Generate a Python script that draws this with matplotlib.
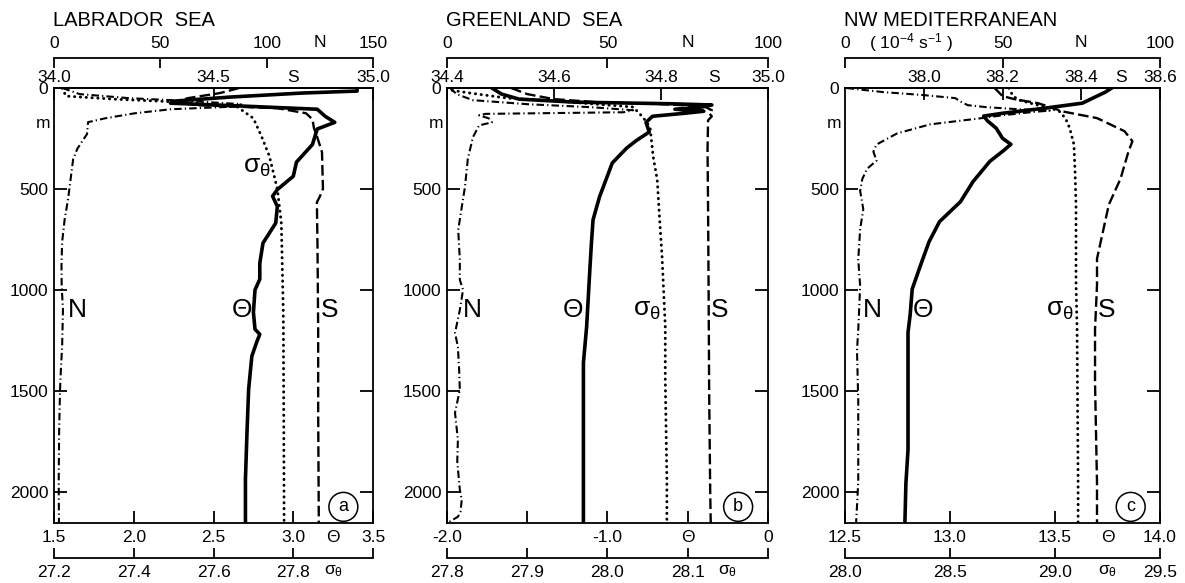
import matplotlib
matplotlib.use('Agg')
import matplotlib.pyplot as plt

plt.rcParams['font.family'] = ['Liberation Sans', 'DejaVu Sans']
plt.rcParams['mathtext.fontset'] = 'custom'
plt.rcParams['mathtext.rm'] = 'Liberation Sans'
plt.rcParams['mathtext.it'] = 'Liberation Sans'
plt.rcParams['mathtext.bf'] = 'Liberation Sans:bold'

# ---- Labrador Sea profiles (depth in m) ----
lab_theta_z = [0, 15, 25, 45, 65, 75, 90, 105, 140, 170, 203, 280, 367, 437, 503, 536, 586, 669,
               768, 868, 947, 1000, 1111, 1195, 1220, 1260, 1329, 1493, 1700, 1939, 2160]
lab_theta = [3.40, 3.40, 3.05, 2.60, 2.25, 2.23, 2.70, 3.15, 3.20, 3.26, 3.15, 3.12, 3.02, 3.00, 2.90,
             2.87, 2.90, 2.89, 2.81, 2.79, 2.79, 2.76, 2.75, 2.76, 2.79, 2.77, 2.74, 2.72, 2.71, 2.70, 2.70]
lab_s_z = [0, 25, 50, 70, 85, 100, 125, 155, 200, 238, 318, 500, 535, 566, 800, 1200, 1600, 2160]
lab_s = [34.58, 34.52, 34.42, 34.38, 34.45, 34.70, 34.79, 34.81, 34.815, 34.824, 34.84, 34.843,
         34.834, 34.824, 34.826, 34.828, 34.828, 34.83]
lab_sig_z = [0, 40, 55, 70, 85, 94, 150, 238, 337, 500, 669, 1116, 1600, 2160]
lab_sig = [27.22, 27.23, 27.35, 27.52, 27.62, 27.66, 27.70, 27.72, 27.74, 27.76, 27.77, 27.775,
           27.776, 27.777]
lab_n_z = [0, 30, 50, 65, 80, 92, 105, 125, 150, 169, 228, 300, 352, 450, 551, 650, 764, 880, 982,
           1100, 1280, 1400, 1500, 1700, 1950, 2160]
lab_n = [4, 12, 35, 65, 88, 85, 55, 38, 24, 16, 15.5, 11, 9, 7.8, 6.6, 5.0, 3.8, 3.5, 3.6, 4.2, 3.8,
         3.2, 2.8, 2.4, 2.2, 2.3]

# ---- Greenland Sea profiles ----
grn_theta_z = [0, 30, 55, 70, 78, 84, 95, 105, 115, 125, 140, 170, 218, 260, 297, 371, 540, 653, 767,
               900, 1183, 1361, 1700, 2160]
grn_theta = [-1.72, -1.66, -1.55, -1.20, -0.60, -0.35, -0.42, -0.58, -0.40, -0.52, -0.72, -0.76,
             -0.74, -0.82, -0.88, -0.97, -1.05, -1.09, -1.10, -1.11, -1.13, -1.15, -1.15, -1.15]
grn_s_z = [0, 30, 55, 70, 80, 90, 110, 125, 140, 160, 300, 600, 1000, 1500, 2000, 2160]
grn_s = [34.52, 34.55, 34.60, 34.68, 34.80, 34.88, 34.895, 34.89, 34.895, 34.888, 34.887, 34.888,
         34.889, 34.890, 34.892, 34.893]
grn_sig_z = [0, 10, 25, 50, 59, 75, 94, 144, 193, 342, 455, 653, 836, 1183, 1445, 1940, 2160]
grn_sig = [27.80, 27.804, 27.829, 27.875, 27.916, 27.97, 28.032, 28.044, 28.053, 28.057, 28.062,
           28.065, 28.068, 28.072, 28.072, 28.074, 28.074]
grn_n_z = [0, 30, 60, 80, 95, 110, 120, 128, 135, 150, 170, 185, 243, 350, 490, 600, 703, 850, 950,
           1000, 1100, 1213, 1282, 1400, 1495, 1609, 1742, 1850, 1990, 2040, 2100, 2124, 2153]
grn_n = [1.0, 3.0, 8.0, 25, 45, 58, 55, 12, 10, 13, 14, 10, 8.1, 6.5, 5.6, 4.5, 3.5, 4.0, 4.0, 5.0,
         4.0, 2.5, 3.4, 3.8, 4.0, 2.5, 3.4, 3.2, 4.0, 4.6, 4.2, 3.4, 0.3]

# ---- NW Mediterranean profiles ----
med_theta_z = [0, 20, 40, 60, 75, 100, 125, 139, 164, 199, 249, 279, 314, 363, 463, 563, 662, 762,
               877, 996, 1125, 1210, 1500, 1793, 1957, 2160]
med_theta = [13.77, 13.74, 13.70, 13.66, 13.63, 13.45, 13.25, 13.16, 13.18, 13.22, 13.25, 13.29,
             13.25, 13.19, 13.11, 13.05, 12.95, 12.90, 12.86, 12.82, 12.81, 12.80, 12.80, 12.80,
             12.79, 12.785]
med_s_z = [0, 20, 40, 55, 75, 100, 115, 149, 214, 264, 314, 448, 578, 712, 846, 976, 1195, 1460,
           1957, 2160]
med_s = [38.18, 38.19, 38.20, 38.23, 38.29, 38.33, 38.35, 38.44, 38.51, 38.53, 38.52, 38.50, 38.47,
         38.455, 38.44, 38.44, 38.435, 38.435, 38.44, 38.44]
med_sig_z = [0, 40, 60, 80, 100, 115, 150, 199, 279, 400, 578, 961, 1195, 1957, 2160]
med_sig = [28.78, 28.80, 28.83, 28.90, 28.98, 29.02, 29.05, 29.07, 29.09, 29.095, 29.10, 29.10,
           29.105, 29.11, 29.11]
med_n_z = [0, 20, 35, 50, 70, 85, 95, 105, 112, 118, 135, 150, 180, 225, 280, 315, 360, 400, 450,
           510, 600, 700, 850, 980, 1200, 1300, 1550, 1950, 2160]
med_n = [0.5, 12, 25, 35, 37, 39, 45, 55, 65, 60, 50, 43, 27, 16.5, 10, 9, 10, 7, 5.5, 4.8, 5.8, 4.8,
         4.2, 4.8, 4.2, 3.8, 4.2, 4.2, 3.5]

depth_ticks = [0, 500, 1000, 1500, 2000]

panels = [
    dict(rect=[0.0456, 0.1029, 0.2692, 0.7461], title='LABRADOR  SEA', tag='a',
         theta=(lab_theta_z, lab_theta), s=(lab_s_z, lab_s), sig=(lab_sig_z, lab_sig), n=(lab_n_z, lab_n),
         th_lim=(1.5, 3.5), th_ticks=[1.5, 2.0, 2.5, 3.0, 3.5], th_lab=['1.5', '2.0', '2.5', '3.0', '3.5'], th_sym=3.25,
         s_lim=(34.0, 35.0), s_ticks=[34.0, 34.5, 35.0], s_lab=['34.0', '34.5', '35.0'], s_sym=34.75,
         sg_lim=(27.2, 28.0), sg_ticks=[27.2, 27.4, 27.6, 27.8, 28.0], sg_lab=['27.2', '27.4', '27.6', '27.8', ''], sg_sym=27.9,
         n_lim=(0, 150), n_ticks=[0, 50, 100, 150], n_lab=['0', '50', '100', '150'], n_sym=125, unit=None,
         txt=dict(N=0.072, T=0.589, G=0.636, S=0.865), g_depth=390),
    dict(rect=[0.3772, 0.1029, 0.2709, 0.7461], title='GREENLAND  SEA', tag='b',
         theta=(grn_theta_z, grn_theta), s=(grn_s_z, grn_s), sig=(grn_sig_z, grn_sig), n=(grn_n_z, grn_n),
         th_lim=(-2.0, 0.0), th_ticks=[-2.0, -1.5, -1.0, -0.5, 0.0], th_lab=['-2.0', '', '-1.0', '', '0'], th_sym=-0.5,
         s_lim=(34.4, 35.0), s_ticks=[34.4, 34.6, 34.8, 35.0], s_lab=['34.4', '34.6', '34.8', '35.0'], s_sym=34.9,
         sg_lim=(27.8, 28.2), sg_ticks=[27.8, 27.9, 28.0, 28.1, 28.2], sg_lab=['27.8', '27.9', '28.0', '28.1', ''], sg_sym=28.15,
         n_lim=(0, 100), n_ticks=[0, 50, 100], n_lab=['0', '50', '100'], n_sym=75, unit=None,
         txt=dict(N=0.078, T=0.393, G=0.623, S=0.850), g_depth=1100),
    dict(rect=[0.7131, 0.1029, 0.2658, 0.7461], title='NW MEDITERRANEAN', tag='c',
         theta=(med_theta_z, med_theta), s=(med_s_z, med_s), sig=(med_sig_z, med_sig), n=(med_n_z, med_n),
         th_lim=(12.5, 14.0), th_ticks=[12.5, 13.0, 13.5, 14.0], th_lab=['12.5', '13.0', '13.5', '14.0'], th_sym=13.75,
         s_lim=(37.8, 38.6), s_ticks=[38.0, 38.2, 38.4, 38.6], s_lab=['38.0', '38.2', '38.4', '38.6'], s_sym=38.5,
         sg_lim=(28.0, 29.5), sg_ticks=[28.0, 28.5, 29.0, 29.5], sg_lab=['28.0', '28.5', '29.0', '29.5'], sg_sym=29.25,
         n_lim=(0, 100), n_ticks=[0, 50, 100], n_lab=['0', '50', '100'], n_sym=75, unit=21,
         txt=dict(N=0.086, T=0.248, G=0.683, S=0.832), g_depth=1100),
]

FS = 12.5
SIG = r'$\sigma_\theta$'
lw_frame = 1.3


def only_spine(ax, name):
    for k, sp in ax.spines.items():
        sp.set_visible(k == name)
        sp.set_linewidth(lw_frame)


fig = plt.figure(figsize=(11.85, 5.83), dpi=100)

for p in panels:
    ax = fig.add_axes(p['rect'])
    ax.set_ylim(2155, 0)
    ax.set_xlim(*p['th_lim'])
    for sp in ax.spines.values():
        sp.set_linewidth(lw_frame)

    # depth axis
    ax.set_yticks(depth_ticks)
    ax.set_yticklabels([str(d) for d in depth_ticks], fontsize=FS)
    ax.tick_params(axis='y', direction='in', length=9.5, width=lw_frame, left=True, right=True, pad=4)
    ax.text(-0.035, 175, 'm', transform=ax.get_yaxis_transform(), ha='center', va='center', fontsize=FS)

    # theta on bottom frame
    ax.set_xticks(p['th_ticks'])
    ax.set_xticklabels(p['th_lab'], fontsize=FS)
    ax.tick_params(axis='x', direction='in', length=8.5, width=lw_frame, top=False, pad=5)
    ax.annotate('\u0398', xy=(p['th_sym'], 0), xycoords=('data', 'axes fraction'), xytext=(0, -10.5),
                textcoords='offset points', ha='center', va='center', fontsize=FS)
    ax.plot(p['theta'][1], p['theta'][0], color='black', lw=2.6, solid_joinstyle='round', zorder=4)

    # salinity on top frame
    axs = ax.twiny()
    only_spine(axs, 'top')
    axs.set_xlim(*p['s_lim'])
    axs.set_xticks(p['s_ticks'])
    axs.set_xticklabels(p['s_lab'], fontsize=FS)
    axs.tick_params(axis='x', direction='in', length=8.5, width=lw_frame, pad=2.5)
    axs.annotate('S', xy=(p['s_sym'], 1), xycoords=('data', 'axes fraction'), xytext=(0, 7.5),
                 textcoords='offset points', ha='center', va='center', fontsize=FS)
    axs.plot(p['s'][1], p['s'][0], color='black', lw=1.7, linestyle=(0, (4.5, 1.8)), zorder=3)

    # N on a separate axis above
    axn = ax.twiny()
    only_spine(axn, 'top')
    axn.spines['top'].set_position(('outward', 21.5))
    axn.set_xlim(*p['n_lim'])
    axn.set_xticks(p['n_ticks'])
    axn.set_xticklabels(p['n_lab'], fontsize=FS)
    axn.tick_params(axis='x', direction='in', length=7, width=lw_frame, pad=5.5)
    axn.annotate('N', xy=(p['n_sym'], 1), xycoords=('data', 'axes fraction'), xytext=(0, 32.5),
                 textcoords='offset points', ha='center', va='center', fontsize=FS)
    if p['unit'] is not None:
        axn.annotate(r'( 10$^{-4}$ s$^{-1}$ )', xy=(p['unit'], 1), xycoords=('data', 'axes fraction'),
                     xytext=(0, 32.5), textcoords='offset points', ha='center', va='center', fontsize=FS)
    axn.plot(p['n'][1], p['n'][0], color='black', lw=1.5, linestyle=(0, (3.6, 1.5, 0.6, 1.5)), zorder=3)

    # sigma-theta on a separate axis below
    axg = ax.twiny()
    only_spine(axg, 'bottom')
    axg.xaxis.set_ticks_position('bottom')
    axg.xaxis.set_label_position('bottom')
    axg.spines['bottom'].set_position(('outward', 25))
    axg.set_xlim(*p['sg_lim'])
    axg.set_xticks(p['sg_ticks'])
    axg.set_xticklabels(p['sg_lab'], fontsize=FS)
    axg.tick_params(axis='x', direction='in', length=7, width=lw_frame, pad=5)
    axg.annotate(SIG, xy=(p['sg_sym'], 0), xycoords=('data', 'axes fraction'), xytext=(0, -35),
                 textcoords='offset points', ha='center', va='center', fontsize=FS)
    axg.plot(p['sig'][1], p['sig'][0], color='black', lw=2.1, linestyle=(0, (0.1, 1.9)),
             dash_capstyle='round', zorder=3)

    # curve labels and panel tag
    t = p['txt']
    tr = ax.get_yaxis_transform()
    ax.text(t['N'], 1100, 'N', transform=tr, ha='center', va='center', fontsize=19)
    ax.text(t['T'], 1100, '\u0398', transform=tr, ha='center', va='center', fontsize=19)
    ax.text(t['S'], 1100, 'S', transform=tr, ha='center', va='center', fontsize=19)
    ax.text(t['G'], p['g_depth'], SIG, transform=tr, ha='center', va='center', fontsize=19)
    ax.text(0.907, 2075, p['tag'], transform=tr, ha='center', va='center', fontsize=13,
            bbox=dict(boxstyle='circle,pad=0.33', fc='white', ec='black', lw=1.1))

    ax.text(-0.003, 1.0 + 68 / 435, p['title'], transform=ax.transAxes, ha='left', va='center', fontsize=14.5)

fig.savefig('out.png', dpi=100)
